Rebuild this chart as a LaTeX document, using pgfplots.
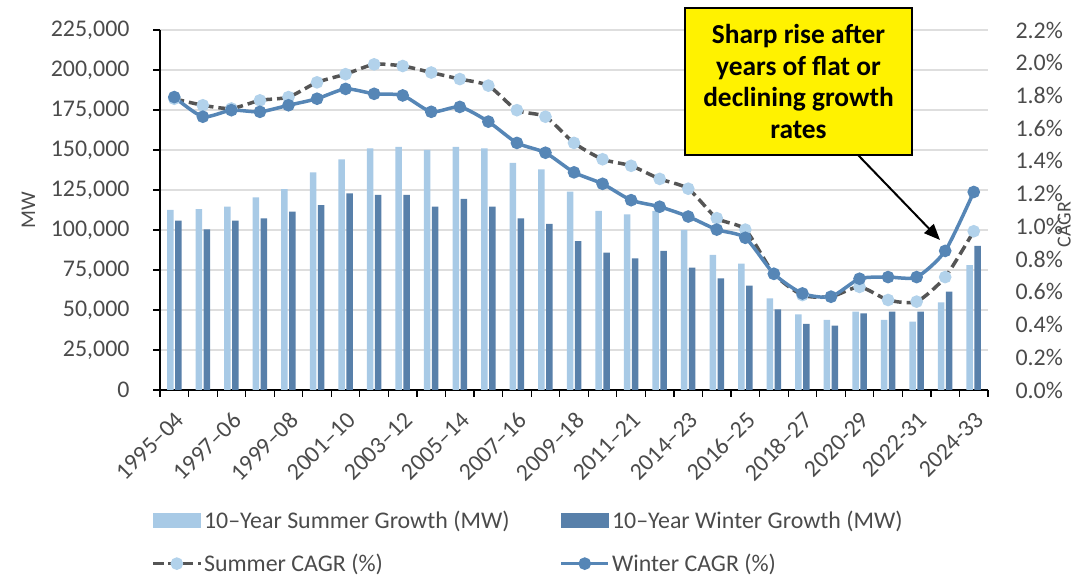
\documentclass[border=0pt]{standalone}
\usepackage{fontspec}
\setmainfont{Carlito}
\usepackage{pgfplots}
\usepackage{pgfplotstable}
\pgfplotsset{compat=1.18}
\usetikzlibrary{arrows.meta}
\definecolor{summerbar}{RGB}{168,202,230}
\definecolor{winterbar}{RGB}{88,128,170}
\definecolor{winterline}{RGB}{86,134,182}
\definecolor{summerline}{RGB}{85,85,85}
\definecolor{summermark}{RGB}{178,210,235}
\definecolor{txt}{RGB}{75,75,75}
\definecolor{gridc}{RGB}{222,222,222}

\pgfplotstableread{
idx sb wb sc wc
0 112500 105800 1.78 1.79
1 113000 100400 1.74 1.67
2 114600 105800 1.72 1.71
3 120400 107300 1.77 1.70
4 125600 111500 1.79 1.74
5 136000 115600 1.88 1.78
6 144200 122900 1.93 1.84
7 151000 121900 1.99 1.81
8 152000 121900 1.98 1.80
9 150000 114600 1.94 1.70
10 152000 119400 1.90 1.73
11 151000 114600 1.86 1.64
12 142000 107300 1.71 1.51
13 137900 103800 1.67 1.45
14 124000 93000 1.51 1.33
15 112000 85800 1.41 1.26
16 109800 82300 1.37 1.16
17 112000 87000 1.29 1.12
18 100000 76500 1.23 1.06
19 84400 69800 1.05 0.98
20 79000 65200 0.98 0.93
21 57300 50400 0.71 0.71
22 47300 41300 0.58 0.59
23 43800 40200 0.57 0.57
24 49000 47900 0.63 0.68
25 43800 49000 0.55 0.69
26 42700 49000 0.54 0.69
27 54800 61500 0.69 0.85
28 78000 90000 0.97 1.21
}\data

\begin{document}
\begin{tikzpicture}[x=1bp,y=1bp]
\useasboundingbox (0,0) rectangle (1076,578);
\begin{axis}[
  at={(160bp,188bp)}, anchor=south west, scale only axis,
  width=828bp, height=360bp,
  xmin=-0.5, xmax=28.5, ymin=0, ymax=225000,
  ybar=1.5bp, bar width=6.5bp,
  axis x line*=bottom, axis y line*=left,
  axis line style={black, line width=1.3bp},
  xtick={0,2,...,28},
  xticklabels={{1995--04},{1997--06},{1999--08},{2001--10},{2003--12},{2005--14},{2007--16},{2009--18},{2011--21},{2014--23},{2016--25},{2018--27},{2020-29},{2022-31},{2024-33}},
  minor xtick={-0.5,0.5,...,28.5},
  major x tick style={draw=none},
  minor x tick style={black, line width=1.2bp},
  y tick style={black, line width=1.2bp},
  tick align=outside,
  major tick length=7bp, minor tick length=7bp,
  ytick={0,25000,50000,75000,100000,125000,150000,175000,200000,225000},
  scaled y ticks=false,
  yticklabel={\pgfmathprintnumber[fixed,precision=0,1000 sep={,},assume math mode=true]{\tick}},
  ymajorgrids, grid style={gridc, line width=1.2bp},
  ticklabel style={font=\fontsize{24}{26}\selectfont, text=txt},
  xticklabel style={rotate=45, anchor=north east, inner sep=1bp, xshift=-8.5bp, yshift=-8.5bp},
  yticklabel style={anchor=east, xshift=-20bp},
  ylabel={MW},
  ylabel style={at={(axis description cs:-0.159,0.5)}, anchor=center, font=\fontsize{21}{23}\selectfont, text=txt},
]
\addplot[fill=summerbar, draw=none] table[x=idx, y=sb] {\data};
\addplot[fill=winterbar, draw=none] table[x=idx, y=wb] {\data};
\end{axis}
\begin{axis}[
  at={(160bp,188bp)}, anchor=south west, scale only axis,
  width=828bp, height=360bp,
  xmin=-0.5, xmax=28.5, ymin=0, ymax=2.2,
  axis x line=none, axis y line*=right,
  y axis line style={draw=none},
  ytick style={draw=none},
  ytick={0,0.2,0.4,0.6,0.8,1.0,1.2,1.4,1.6,1.8,2.0,2.2},
  yticklabel={\pgfmathprintnumber[fixed,fixed zerofill,precision=1,assume math mode=true]{\tick}\%},
  ticklabel style={font=\fontsize{24}{26}\selectfont, text=txt},
  yticklabel style={anchor=west, xshift=24bp},
  ylabel={CAGR},
  ylabel style={at={(axis description cs:1.092,0.46)}, anchor=center, font=\fontsize{20}{22}\selectfont, text=txt},
  legend columns=2,
  legend style={at={(axis description cs:-0.014,-0.325)}, anchor=north west, draw=none, fill=none,
    font=\fontsize{24}{26}\selectfont, text=txt, row sep=20bp,
    /tikz/every even column/.append style={column sep=48bp}},
  legend cell align=left,
  legend image code/.code={\draw[mark repeat=2,mark phase=2,#1] plot coordinates {(0bp,0bp) (23.5bp,0bp) (47bp,0bp)};},
]
\addlegendimage{legend image code/.code={\fill[summerbar] (0bp,-7bp) rectangle (47bp,7bp);}}
\addlegendentry{10–Year Summer Growth (MW)}
\addlegendimage{legend image code/.code={\fill[winterbar] (0bp,-7bp) rectangle (47bp,7bp);}}
\addlegendentry{10–Year Winter Growth (MW)}
\addplot[color=summerline, line width=3.5bp, dash pattern=on 10bp off 5bp, smooth, tension=0.4,
  mark=*, mark size=4.5bp, mark options={solid, fill=summermark, draw=summermark}]
  table[x=idx, y=sc] {\data};
\addlegendentry{Summer CAGR (\%)}
\addplot[color=winterline, line width=3.5bp, smooth, tension=0.4,
  mark=*, mark size=4.5bp, mark options={solid, fill=winterline, draw=winterline}]
  table[x=idx, y=wc] {\data};
\addlegendentry{Winter CAGR (\%)}
\end{axis}
\node[draw=black, line width=1.5bp, fill=yellow, minimum width=227bp, minimum height=147bp,
  align=center, font=\bfseries\fontsize{27.5}{32}\selectfont, text=black, inner sep=0pt]
  at (798.5,496.5) {Sharp rise after\\years of flat or\\declining growth\\rates};
\draw[-{Triangle[length=16bp,width=13bp]}, line width=2bp] (858,423) -- (940,338);
\end{tikzpicture}
\end{document}
